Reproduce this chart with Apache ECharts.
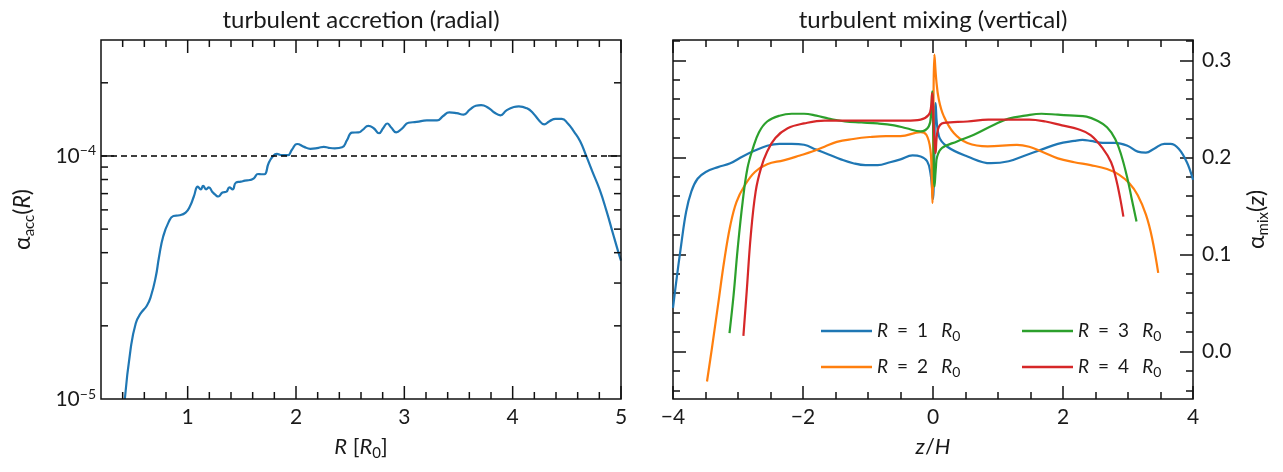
<!DOCTYPE html>
<html><head><meta charset="utf-8">
<script src="https://cdn.jsdelivr.net/npm/echarts@6/dist/echarts.min.js"></script>
<style>
html,body{margin:0;padding:0;background:#fff}
#wrap{position:relative;width:1283px;height:472px;background:#fff}
#leftData,#leftFrame,#leftTicks{position:absolute;left:0;top:0;width:645px;height:472px}
#leftFrame{z-index:2}
#leftTicks{z-index:3}
#right{position:absolute;left:645px;top:0;width:638px;height:472px}
</style>
</head><body><div id="wrap"><div id="leftData"></div><div id="leftFrame"></div><div id="leftTicks"></div><div id="right"></div></div>
<script>
// ---------- left panel: turbulent accretion ----------
const accR = [
  0.42, 0.472, 0.521, 0.566, 0.623, 0.660, 0.706, 0.736, 0.774, 0.823,
  0.868, 0.925, 0.981, 1.019, 1.057, 1.094, 1.121, 1.143, 1.170, 1.196,
  1.226, 1.257, 1.283, 1.321, 1.358, 1.385, 1.415, 1.445, 1.491, 1.528,
  1.574, 1.611, 1.649, 1.679, 1.709, 1.747, 1.785, 1.823, 1.868, 1.925,
  1.962, 2.011, 2.075, 2.132, 2.208, 2.257, 2.302, 2.358, 2.426, 2.472,
  2.517, 2.577, 2.615, 2.668, 2.717, 2.766, 2.804, 2.842, 2.879, 2.925,
  2.981, 3.038, 3.113, 3.208, 3.302, 3.358, 3.415, 3.483, 3.547, 3.604,
  3.660, 3.709, 3.774, 3.830, 3.887, 3.943, 4.011, 4.057, 4.132, 4.189,
  4.238, 4.291, 4.340, 4.396, 4.453, 4.509, 4.566, 4.623, 4.679, 4.736,
  4.804, 4.868, 4.925, 4.970, 5.0
];
const accAlpha = [
  1.0e-5, 1.59e-5, 2.05e-5, 2.25e-5, 2.42e-5, 2.64e-5, 3.19e-5, 3.85e-5, 4.66e-5, 5.33e-5,
  5.66e-5, 5.70e-5, 5.85e-5, 6.18e-5, 6.81e-5, 7.48e-5, 7.29e-5, 7.53e-5, 7.29e-5, 7.43e-5,
  7.13e-5, 6.91e-5, 6.81e-5, 7.07e-5, 7.13e-5, 7.43e-5, 7.29e-5, 7.77e-5, 7.84e-5, 7.91e-5,
  7.96e-5, 8.09e-5, 8.43e-5, 8.41e-5, 8.41e-5, 9.33e-5, 9.94e-5, 1.02e-4, 1.007e-4, 1.007e-4,
  1.06e-4, 1.12e-4, 1.09e-4, 1.07e-4, 1.08e-4, 1.09e-4, 1.08e-4, 1.075e-4, 1.086e-4, 1.164e-4,
  1.248e-4, 1.25e-4, 1.28e-4, 1.33e-4, 1.30e-4, 1.24e-4, 1.30e-4, 1.36e-4, 1.31e-4, 1.25e-4,
  1.30e-4, 1.37e-4, 1.38e-4, 1.40e-4, 1.40e-4, 1.46e-4, 1.51e-4, 1.50e-4, 1.48e-4, 1.55e-4,
  1.61e-4, 1.62e-4, 1.58e-4, 1.51e-4, 1.47e-4, 1.54e-4, 1.59e-4, 1.60e-4, 1.57e-4, 1.50e-4,
  1.41e-4, 1.35e-4, 1.39e-4, 1.42e-4, 1.42e-4, 1.36e-4, 1.26e-4, 1.15e-4, 1.00e-4, 8.62e-5,
  7.25e-5, 5.90e-5, 4.81e-5, 4.10e-5, 3.71e-5
];
const accReference = 1e-4;

// ---------- right panel: turbulent mixing ----------
const zR1 = [-4.0, -3.95, -3.874, -3.798, -3.717, -3.622, -3.496, -3.307, -3.118, -2.929,
  -2.740, -2.551, -2.362, -2.173, -1.984, -1.795, -1.606, -1.417, -1.228, -1.039,
  -0.850, -0.661, -0.5, -0.315, -0.19, -0.09, -0.04, -0.01, 0.0, 0.02,
  0.039, 0.09, 0.22, 0.53, 0.89, 1.165, 1.417, 1.669, 1.921, 2.173,
  2.299, 2.425, 2.614, 2.803, 2.992, 3.150, 3.276, 3.402, 3.559, 3.654,
  3.780, 3.906, 4.0];
const aR1 = [0.045, 0.072, 0.110, 0.144, 0.165, 0.178, 0.185, 0.190, 0.194, 0.201,
  0.207, 0.212, 0.214, 0.214, 0.213, 0.208, 0.203, 0.198, 0.194, 0.192,
  0.192, 0.195, 0.198, 0.202, 0.201, 0.196, 0.184, 0.165, 0.157, 0.200,
  0.256, 0.222, 0.211, 0.201, 0.194, 0.196, 0.202, 0.208, 0.214, 0.217,
  0.218, 0.217, 0.215, 0.215, 0.212, 0.206, 0.205, 0.209, 0.214, 0.214,
  0.209, 0.195, 0.177];

const zR2 = [-3.477, -3.402, -3.307, -3.213, -3.118, -3.024, -2.898, -2.740, -2.551, -2.299,
  -2.047, -1.858, -1.669, -1.480, -1.228, -0.976, -0.724, -0.5, -0.19, -0.1,
  -0.04, -0.02, -0.008, 0.022, 0.05, 0.09, 0.167, 0.32, 0.53, 0.84,
  1.291, 1.480, 1.669, 1.921, 2.173, 2.425, 2.677, 2.866, 3.024, 3.150,
  3.276, 3.370, 3.465];
const aR2 = [-0.031, 0.003, 0.048, 0.093, 0.130, 0.154, 0.171, 0.185, 0.193, 0.197,
  0.202, 0.206, 0.211, 0.216, 0.219, 0.221, 0.222, 0.222, 0.226, 0.223,
  0.208, 0.180, 0.153, 0.306, 0.28, 0.2595, 0.2423, 0.2251, 0.2148, 0.2113,
  0.213, 0.211, 0.206, 0.199, 0.195, 0.192, 0.188, 0.182, 0.173, 0.161,
  0.141, 0.117, 0.081];

const zR3 = [-3.131, -3.068, -3.005, -2.929, -2.854, -2.772, -2.677, -2.551, -2.362, -2.173,
  -1.984, -1.795, -1.606, -1.354, -1.102, -0.850, -0.598, -0.409, -0.19, -0.065,
  -0.03, -0.012, 0.005, 0.023, 0.045, 0.065, 0.14, 0.37, 0.63, 0.94,
  1.165, 1.417, 1.669, 1.921, 2.173, 2.362, 2.520, 2.677, 2.803, 2.898,
  2.992, 3.055, 3.131];
const aR3 = [0.019, 0.058, 0.106, 0.154, 0.189, 0.209, 0.226, 0.237, 0.243, 0.245,
  0.245, 0.243, 0.240, 0.237, 0.236, 0.235, 0.233, 0.230, 0.2268, 0.232,
  0.245, 0.268, 0.22, 0.170, 0.19, 0.201, 0.2097, 0.2165, 0.2234, 0.2337,
  0.240, 0.243, 0.245, 0.244, 0.243, 0.242, 0.238, 0.231, 0.219, 0.202,
  0.178, 0.158, 0.134];

const zR4 = [-2.917, -2.866, -2.803, -2.728, -2.646, -2.551, -2.425, -2.236, -1.984, -1.669,
  -1.354, -1.039, -0.724, -0.409, -0.19, -0.065, -0.03, -0.013, 0.012, 0.039,
  0.075, 0.167, 0.53, 0.850, 1.165, 1.480, 1.732, 1.984, 2.236, 2.425,
  2.614, 2.740, 2.816, 2.879, 2.929];
const aR4 = [0.016, 0.062, 0.120, 0.165, 0.189, 0.206, 0.220, 0.230, 0.235, 0.238,
  0.238, 0.238, 0.238, 0.238, 0.239, 0.244, 0.252, 0.266, 0.23, 0.2045,
  0.2286, 0.2355, 0.237, 0.239, 0.239, 0.239, 0.237, 0.233, 0.229, 0.223,
  0.209, 0.195, 0.178, 0.158, 0.139];

const mixNames = ['R = 1 R0', 'R = 2 R0', 'R = 3 R0', 'R = 4 R0'];
const mixColors = ['#1f77b4', '#ff7f0e', '#2ca02c', '#d62728'];

// ---------- tick values ----------
const leftXMajor = [1, 2, 3, 4, 5];
const leftXMinor = [0.4, 0.6, 0.8, 1.2, 1.4, 1.6, 1.8, 2.2, 2.4, 2.6, 2.8,
  3.2, 3.4, 3.6, 3.8, 4.2, 4.4, 4.6, 4.8];
const leftYMajor = [1e-4];
const leftYMinor = [2e-5, 3e-5, 4e-5, 5e-5, 6e-5, 7e-5, 8e-5, 9e-5, 2e-4];
const rightYMajor = [0, 0.1, 0.2, 0.3];
const rightYMinor = [-0.04, -0.02, 0.02, 0.04, 0.06, 0.08, 0.12, 0.14, 0.16, 0.18,
  0.22, 0.24, 0.26, 0.28, 0.32];

const FONT = 'Lato';
const TXT = '#1a1a1a';
const INK = '#111';
const MAJ = 13, MIN = 7;
const zip = (a, b) => a.map((v, i) => [v, b[i]]);

const richBase = {
  i: { fontStyle: 'italic', fontFamily: FONT, color: TXT },
  sub: { fontSize: 14, lineHeight: 14, verticalAlign: 'bottom', fontFamily: FONT, color: TXT },
  sup: { fontSize: 14, lineHeight: 14, verticalAlign: 'top', fontFamily: FONT, color: TXT }
};
const nameStyle = (size) => ({
  fontSize: size, fontFamily: FONT, color: TXT, lineHeight: 28,
  rich: {
    i: Object.assign({}, richBase.i, { fontSize: size }),
    sub: Object.assign({}, richBase.sub, { fontSize: 15, lineHeight: 15 })
  }
});
function axis(o) {
  return Object.assign({
    type: 'value',
    axisLine: { show: false, onZero: false },
    splitLine: { show: false },
    axisLabel: { show: false },
    axisTick: { show: false }
  }, o);
}
const tick = (len, extra) => Object.assign({ show: true, inside: true, length: len,
  lineStyle: { color: INK, width: 1.5 } }, extra || {});
const lbl = (extra) => Object.assign({ show: true, fontSize: 21, fontFamily: FONT, color: TXT }, extra || {});
const minorT = { show: true, splitNumber: 4, length: MIN, lineStyle: { color: INK, width: 1.5 } };
const titleStyle = { fontSize: 24, fontFamily: FONT, color: TXT };

const LX = [0.2, 5], LY = [1e-5, 3e-4], RX = [-4, 4], RY = [-0.049, 0.321];
const LGRID = { left: 101, top: 40, width: 520, height: 359 };

const logLabel = v => {
  const l = Math.log10(v), e = Math.round(l);
  if (Math.abs(l - e) > 1e-6) return '';
  return '10{sup|' + (e < 0 ? '\u2212' : '') + Math.abs(e) + '}';
};

// ================= left: curves =================
const leftDataOption = {
  animation: false,
  grid: Object.assign({}, LGRID),
  xAxis: axis({ min: LX[0], max: LX[1] }),
  yAxis: axis({ type: 'log', min: LY[0], max: LY[1] }),
  series: [
    {
      type: 'line', name: 'acc', data: zip(accR, accAlpha), showSymbol: false, symbol: 'none', smooth: 0.5,
      lineStyle: { color: '#1f77b4', width: 2.2 }, itemStyle: { color: '#1f77b4' }, z: 3
    },
    {
      type: 'line', name: 'reference', data: [[LX[0], accReference], [LX[1], accReference]],
      showSymbol: false, symbol: 'none', silent: true,
      lineStyle: { color: '#000', width: 1.6, type: [6, 4] }, itemStyle: { color: '#000' }, z: 4
    }
  ]
};

// ================= left: frame, labels, names =================
const leftFrameOption = {
  animation: false,
  grid: Object.assign({ show: true, borderColor: INK, borderWidth: 1.5, backgroundColor: 'transparent' }, LGRID),
  xAxis: [
    axis({ position: 'bottom', min: LX[0], max: LX[1],
      axisLabel: lbl({ customValues: leftXMajor, margin: 8 }),
      name: '{i|R} [{i|R}{sub|0}]', nameLocation: 'middle', nameGap: 34, nameTextStyle: nameStyle(22) }),
    axis({ position: 'top', min: LX[0], max: LX[1],
      name: 'turbulent accretion (radial)', nameLocation: 'middle', nameGap: 8, nameTextStyle: titleStyle })
  ],
  yAxis: [
    axis({ type: 'log', position: 'left', min: LY[0], max: LY[1],
      axisLabel: lbl({ margin: 5, lineHeight: 24, formatter: logLabel, rich: { sup: Object.assign({}, richBase.sup) } }),
      name: '\u03b1{sub|acc}({i|R})', nameLocation: 'middle', nameGap: 64, nameTextStyle: nameStyle(23) })
  ],
  series: []
};

// ================= left: tick marks (drawn through the axes' scales) =================
const tickStyle = { stroke: INK, lineWidth: 1.5 };
const leftTicksOption = {
  animation: false,
  grid: Object.assign({}, LGRID),
  xAxis: axis({ min: LX[0], max: LX[1] }),
  yAxis: axis({ type: 'log', min: LY[0], max: LY[1] }),
  series: [
    {
      type: 'custom', name: 'xTicks', silent: true, clip: false, z: 10,
      data: leftXMajor.map(v => [v, LY[0], MAJ]).concat(leftXMinor.map(v => [v, LY[0], MIN])),
      renderItem: (params, api) => {
        const p = api.coord([api.value(0), api.value(1)]);
        const len = api.value(2);
        const cs = params.coordSys;
        const top = cs.y, bot = cs.y + cs.height;
        return { type: 'group', children: [
          { type: 'line', shape: { x1: p[0], y1: bot, x2: p[0], y2: bot - len }, style: tickStyle },
          { type: 'line', shape: { x1: p[0], y1: top, x2: p[0], y2: top + len }, style: tickStyle }
        ] };
      }
    },
    {
      type: 'custom', name: 'yTicks', silent: true, clip: false, z: 10,
      data: leftYMajor.map(v => [LX[0], v, MAJ]).concat(leftYMinor.map(v => [LX[0], v, MIN])),
      renderItem: (params, api) => {
        const p = api.coord([api.value(0), api.value(1)]);
        const len = api.value(2);
        const cs = params.coordSys;
        const l = cs.x, r = cs.x + cs.width;
        return { type: 'group', children: [
          { type: 'line', shape: { x1: l, y1: p[1], x2: l + len, y2: p[1] }, style: tickStyle },
          { type: 'line', shape: { x1: r - len, y1: p[1], x2: r, y2: p[1] }, style: tickStyle }
        ] };
      }
    }
  ]
};

// ================= right chart =================
const legendText = {
  fontSize: 19, fontFamily: FONT, color: TXT, lineHeight: 24,
  rich: {
    i: { fontStyle: 'italic', fontSize: 19, fontFamily: FONT, color: TXT },
    eq: { fontSize: 19, fontFamily: FONT, color: TXT, padding: [0, 9, 0, 9] },
    n: { fontSize: 19, fontFamily: FONT, color: TXT, padding: [0, 13, 0, 0] },
    sub: { fontSize: 14, lineHeight: 14, verticalAlign: 'bottom', fontFamily: FONT, color: TXT }
  }
};
const legendFmt = name => '{i|R}{eq|=}{n|' + name.charAt(4) + '}{i|R}{sub|0}';
const legendBase = {
  orient: 'vertical', top: 314, itemWidth: 51, itemHeight: 2.5, itemGap: 12,
  icon: 'rect', formatter: legendFmt, textStyle: legendText, selectedMode: false
};
const RG = 28; // grid left inside the right chart container
const rightOption = {
  animation: false,
  backgroundColor: '#fff',
  grid: { left: RG, top: 40, width: 520, height: 359, show: true, borderColor: INK, borderWidth: 1.5, backgroundColor: 'transparent' },
  xAxis: [
    axis({ position: 'bottom', min: RX[0], max: RX[1], interval: 2,
      axisTick: tick(MAJ), minorTick: minorT,
      axisLabel: lbl({ margin: 8, formatter: v => String(v).replace('-', '\u2212') }),
      name: '{i|z}/{i|H}', nameLocation: 'middle', nameGap: 34, nameTextStyle: nameStyle(22) }),
    axis({ position: 'top', min: RX[0], max: RX[1], interval: 2,
      axisTick: tick(MAJ), minorTick: minorT,
      name: 'turbulent mixing (vertical)', nameLocation: 'middle', nameGap: 8, nameTextStyle: titleStyle })
  ],
  yAxis: [
    axis({ position: 'right', min: RY[0], max: RY[1],
      axisTick: tick(MAJ, { customValues: rightYMajor }),
      axisLabel: lbl({ customValues: rightYMajor, margin: 9, formatter: v => v.toFixed(1) }),
      name: '\u03b1{sub|mix}({i|z})', nameLocation: 'middle', nameGap: 48, nameTextStyle: nameStyle(23) }),
    axis({ position: 'right', min: RY[0], max: RY[1], axisTick: tick(MIN, { customValues: rightYMinor }) }),
    axis({ position: 'left', min: RY[0], max: RY[1], axisTick: tick(MAJ, { customValues: rightYMajor }) }),
    axis({ position: 'left', min: RY[0], max: RY[1], axisTick: tick(MIN, { customValues: rightYMinor }) })
  ],
  legend: [
    Object.assign({}, legendBase, { left: 816 - 645, data: [mixNames[0], mixNames[1]] }),
    Object.assign({}, legendBase, { left: 1017 - 645, data: [mixNames[2], mixNames[3]] })
  ],
  series: [zip(zR1, aR1), zip(zR2, aR2), zip(zR3, aR3), zip(zR4, aR4)].map((d, k) => ({
    type: 'line', name: mixNames[k], xAxisIndex: 0, yAxisIndex: 0,
    data: d, showSymbol: false, symbol: 'none', smooth: 0.4,
    lineStyle: { color: mixColors[k], width: 2.2 }, itemStyle: { color: mixColors[k] }, z: 3
  }))
};

const charts = [
  ['leftData', leftDataOption],
  ['leftFrame', leftFrameOption],
  ['leftTicks', leftTicksOption],
  ['right', rightOption]
].map(([id, opt]) => {
  const c = echarts.init(document.getElementById(id), null, { renderer: 'canvas' });
  c.setOption(opt);
  return c;
});
charts.forEach(c => {
  const zr = c.getZr();
  zr.storage.getDisplayList(true).forEach(el => { if (el.getComputedTransform) el.getComputedTransform(); });
  zr.refreshImmediately();
});
</script>
</body></html>
